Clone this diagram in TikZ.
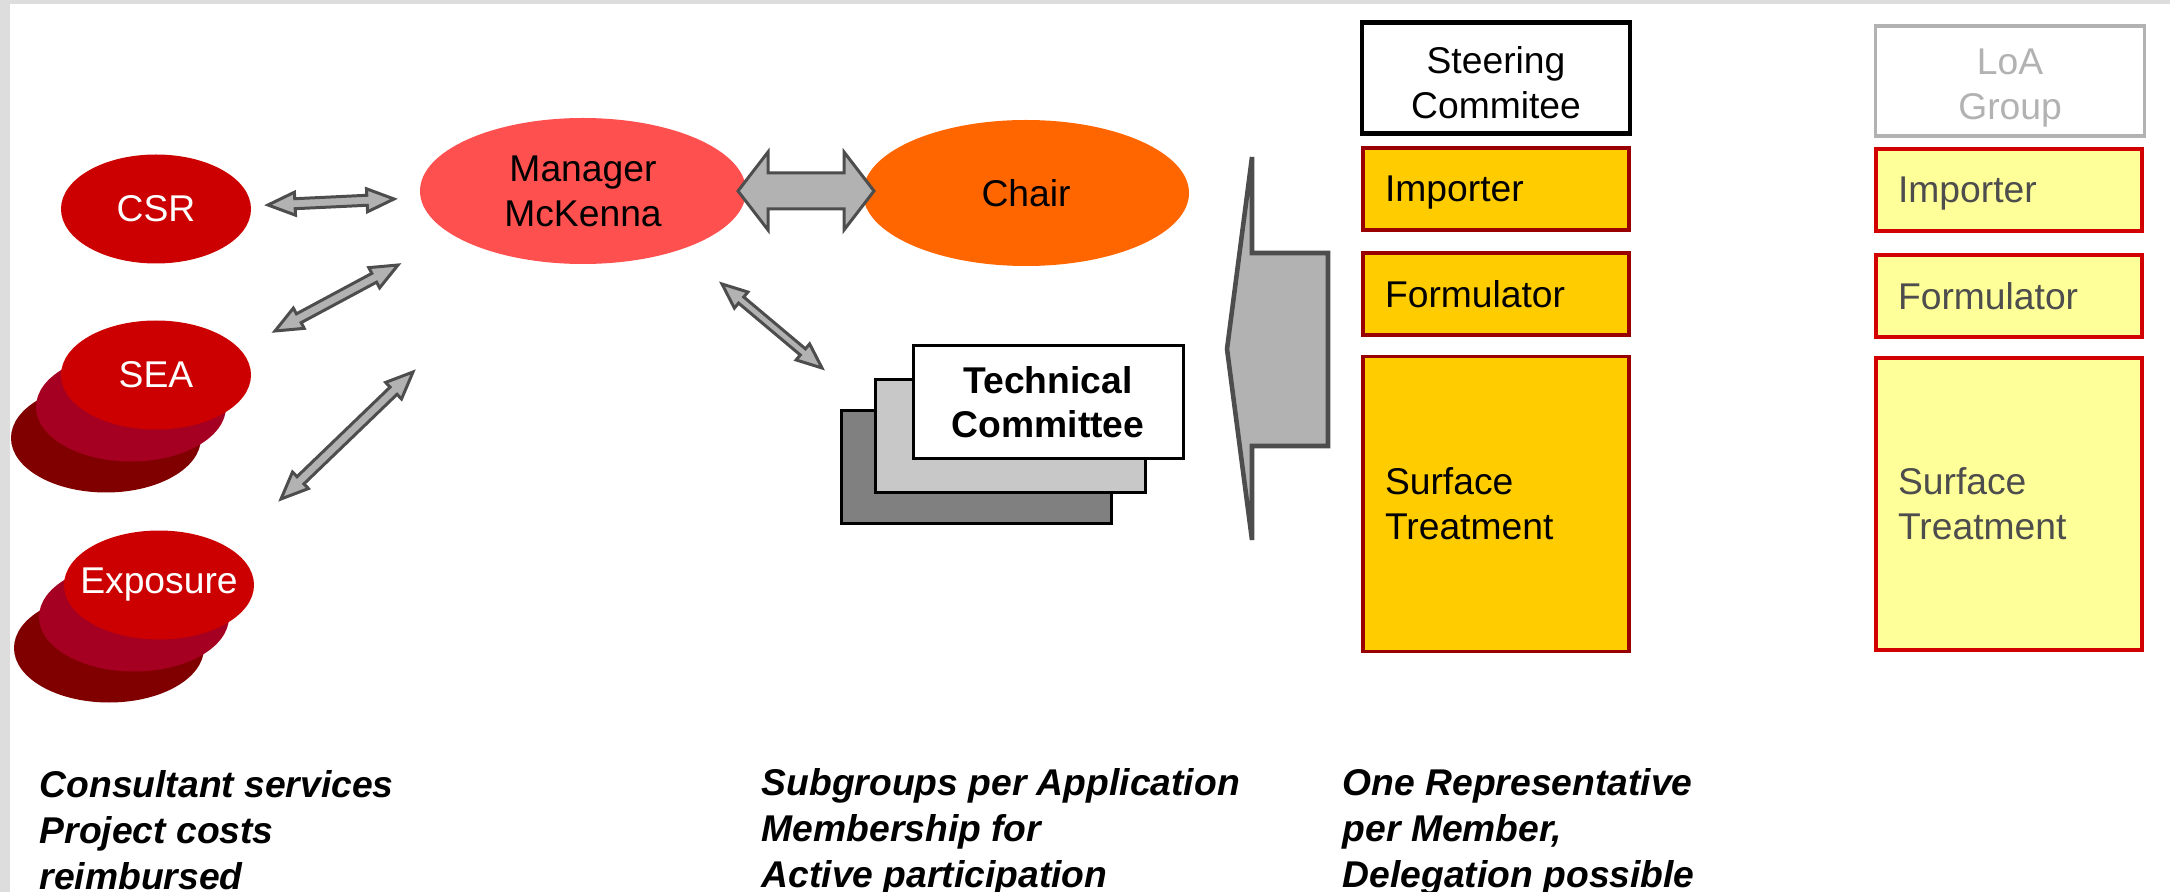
\documentclass[tikz,border=0pt]{standalone}
\usepackage{fontspec}
\setmainfont{Liberation Sans}
\usetikzlibrary{shapes,calc,positioning}

\definecolor{bordergray}{RGB}{221,221,221}
\definecolor{ballred}{RGB}{204,0,0}
\definecolor{ballmid}{RGB}{165,0,33}
\definecolor{balldark}{RGB}{128,0,0}
\definecolor{mgrred}{RGB}{255,80,80}
\definecolor{chairorange}{RGB}{255,102,0}
\definecolor{arrowfill}{RGB}{178,178,178}
\definecolor{arrowline}{RGB}{77,77,77}
\definecolor{techdark}{RGB}{128,128,128}
\definecolor{techlight}{RGB}{200,200,200}
\definecolor{memberfill}{RGB}{255,204,0}
\definecolor{memberline}{RGB}{153,0,0}
\definecolor{loafill}{RGB}{255,255,153}
\definecolor{loaline}{RGB}{210,0,0}
\definecolor{loatext}{RGB}{77,77,77}
\definecolor{loagray}{RGB}{178,178,178}

\newcommand{\boxfont}{\fontsize{10.6}{12.8}\selectfont}

\tikzstyle{twoway}=[draw=arrowline, fill=arrowfill, line width=0.85pt, line join=miter]

% block arrow with a head at both ends: from, to, shaft, head, head length
\newcommand{\twowayarrow}[5]{%
  \coordinate (tw1) at ($(#1)!#5!(#2)$);
  \coordinate (tw2) at ($(#2)!#5!(#1)$);
  \draw[twoway] (#1)
    -- ($(tw1)!#4!90:(#2)$) -- ($(tw1)!#3!90:(#2)$)
    -- ($(tw2)!#3!90:(#2)$) -- ($(tw2)!#4!90:(#2)$)
    -- (#2)
    -- ($(tw2)!#4!-90:(#2)$) -- ($(tw2)!#3!-90:(#2)$)
    -- ($(tw1)!#3!-90:(#2)$) -- ($(tw1)!#4!-90:(#2)$)
    -- cycle;}

\begin{document}
\begin{tikzpicture}[x=0.1mm,y=-0.1mm]

  \useasboundingbox (0,0) rectangle (2170,892);
  \fill[bordergray] (0,0) rectangle (2170,4);
  \fill[bordergray] (0,0) rectangle (10,892);

  \coordinate (Csr) at (156,209);
  \coordinate (Sea) at (156,375);
  \coordinate (Exp) at (159,585);
  \coordinate (Mgr) at (583,191);
  \coordinate (Chair) at (1026,193);
  \coordinate (Tech) at (1048,402);
  \coordinate (Steer) at (1496,78);
  \coordinate (Imp) at (1496,189);
  \coordinate (Form) at (1496,294);
  \coordinate (Surf) at (1496,504);
  \coordinate (Loa) at (2010,81);
  \coordinate (LoaImp) at (2009,190);
  \coordinate (LoaForm) at (2009,296);
  \coordinate (LoaSurf) at (2009,504);

  \tikzstyle{ball}=[shape=ellipse, minimum width=19mm,
                    minimum height=10.9mm, inner sep=0pt,
                    text=white, font=\boxfont];
  \tikzstyle{bigball}=[shape=ellipse, minimum width=32.6mm,
                    minimum height=14.6mm, inner sep=0pt,
                    align=center, font=\boxfont];
  \tikzstyle{sheet}=[draw=black, line width=0.85pt,
                    minimum width=27mm, minimum height=11.3mm];
  \tikzstyle{member}=[draw=memberline, fill=memberfill, line width=1pt,
                    text width=22.2mm, inner xsep=2.2mm,
                    align=left, font=\boxfont];
  \tikzstyle{loamember}=[member, draw=loaline, fill=loafill, text=loatext];
  \tikzstyle{oneline}=[minimum height=8.25mm, text depth=0pt];
  \tikzstyle{head}=[align=center, font=\boxfont,
                    text height=22.8pt, text depth=0pt];
  \tikzstyle{note}=[anchor=north west, inner sep=0pt, align=left,
                    font=\bfseries\itshape\fontsize{10.6}{13}\selectfont];

  % consultants
  \node[ball, fill=ballred] (CsrBox) at (Csr) {CSR};

  \foreach \s in {Sea,Exp} {
    \node[ball, fill=balldark] (\s-back) at ($(\s)+(-50,63)$) {};
    \node[ball, fill=ballmid] (\s-mid) at ($(\s)+(-25,32)$) {};
  }
  \node[ball, fill=ballred] (SeaBox) at (Sea) {SEA};
  \node[ball, fill=ballred] (ExpBox) at (Exp) {\makebox[0pt]{Exposure}};

  \node[bigball, fill=mgrred] (MgrBox) at (Mgr) {Manager\\McKenna};
  \node[bigball, fill=chairorange] (ChairBox) at (Chair) {Chair};

  % technical committee
  \node[sheet, fill=techdark] (TechBack) at ($(Tech)+(-72,65)$) {};
  \node[sheet, fill=techlight] (TechMid) at ($(Tech)+(-38,34)$) {};
  \node[sheet, fill=white, align=center, font=\bfseries\fontsize{10.6}{12.5}\selectfont]
       (TechBox) at (Tech) {Technical\\Committee};

  % arrows
  \coordinate (CsrA) at (268,205);
  \coordinate (CsrB) at (394,199);
  \coordinate (SeaA) at (275,331);
  \coordinate (SeaB) at (398,265);
  \coordinate (ExpA) at (281,499);
  \coordinate (ExpB) at (413,372);
  \coordinate (TechA) at (722,284);
  \coordinate (TechB) at (822,368);
  \coordinate (ChairA) at (738,191);
  \coordinate (ChairB) at (874,191);

  \twowayarrow{CsrA}{CsrB}{0.5mm}{1.15mm}{2.7mm}
  \twowayarrow{SeaA}{SeaB}{0.5mm}{1.15mm}{2.7mm}
  \twowayarrow{ExpA}{ExpB}{0.5mm}{1.15mm}{2.7mm}
  \twowayarrow{TechA}{TechB}{0.4mm}{1.05mm}{2.5mm}
  \twowayarrow{ChairA}{ChairB}{1.8mm}{3.9mm}{3mm}

  \draw[twoway, line width=1.3pt] (1252,157) -- (1252,253) -- (1328,253)
       -- (1328,446) -- (1252,446) -- (1252,540) -- (1227,349) -- cycle;

  % steering committee
  \node[head, draw=black, line width=1.2pt, minimum width=26.8mm,
        minimum height=11.1mm] (SteerBox) at (Steer) {Steering\\Commitee};
  \node[member, oneline] (ImpBox) at (Imp) {Importer};
  \node[member, oneline] (FormBox) at (Form) {Formulator};
  \node[member, minimum height=29.5mm] (SurfBox) at (Surf) {Surface\\Treatment};

  % LoA group
  \node[head, text height=21.8pt, draw=loagray, text=loagray, line width=1.1pt,
        minimum width=26.9mm, minimum height=11mm] (LoaBox) at (Loa) {LoA\\Group};
  \node[loamember, oneline] (LoaImpBox) at (LoaImp) {Importer};
  \node[loamember, oneline] (LoaFormBox) at (LoaForm) {Formulator};
  \node[loamember, minimum height=29.2mm] (LoaSurfBox) at (LoaSurf) {Surface\\Treatment};

  % notes
  \node[note] (CostNote) at (39,770) {Consultant services\\Project costs\\reimbursed};
  \node[note] (SubNote) at (761,768) {Subgroups per Application\\Membership for\\Active participation};
  \node[note] (RepNote) at (1342,768) {One Representative\\per Member,\\Delegation possible};

\end{tikzpicture}
\end{document}
